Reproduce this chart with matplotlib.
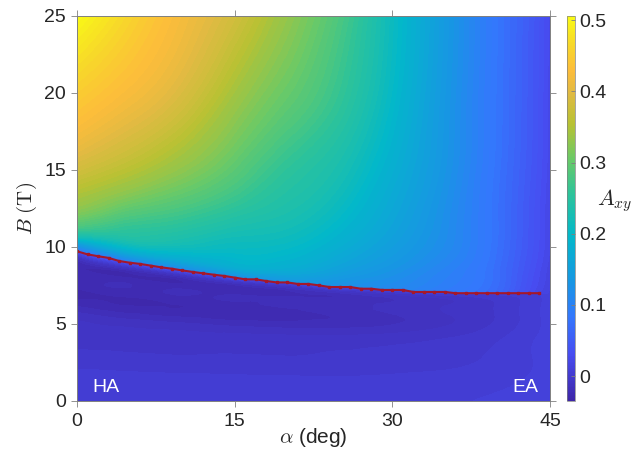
import numpy as np
import matplotlib
matplotlib.use('Agg')
import matplotlib.pyplot as plt
import matplotlib.tri as mtri
from matplotlib.colors import LinearSegmentedColormap, Normalize
from matplotlib.cm import ScalarMappable

# red transition line (one marker per degree)
alpha_line = list(range(0, 45))
B_line = [9.72, 9.52, 9.40, 9.29, 9.09, 8.98, 8.90, 8.79, 8.68, 8.59,
          8.48, 8.38, 8.29, 8.20, 8.12, 8.01, 7.90, 7.90, 7.79, 7.70,
          7.70, 7.60, 7.60, 7.51, 7.40, 7.40, 7.40, 7.29, 7.29, 7.21,
          7.21, 7.21, 7.08, 7.08, 7.08, 7.08, 7.00, 7.00, 7.00, 7.00,
          7.00, 7.00, 7.00, 7.00, 7.00]

# A_xy, columns at these angles
alpha_grid = [0, 5, 10, 15, 20, 25, 30, 35, 40, 43, 45]

# above the line: rows are fractions of the way from the line up to 25 T
t_upper = [0, 0.02, 0.06, 0.12, 0.25, 0.45, 0.7, 1.0]
A_upper = [
    [0.080, 0.090, 0.100, 0.110, 0.130, 0.120, 0.110, 0.090, 0.065, 0.030, 0.012],
    [0.120, 0.130, 0.140, 0.150, 0.150, 0.130, 0.115, 0.095, 0.068, 0.033, 0.014],
    [0.220, 0.200, 0.190, 0.190, 0.180, 0.150, 0.125, 0.100, 0.070, 0.036, 0.016],
    [0.290, 0.250, 0.230, 0.210, 0.200, 0.170, 0.140, 0.110, 0.072, 0.040, 0.018],
    [0.350, 0.310, 0.280, 0.250, 0.230, 0.200, 0.160, 0.120, 0.075, 0.043, 0.020],
    [0.410, 0.375, 0.340, 0.300, 0.260, 0.230, 0.180, 0.130, 0.077, 0.046, 0.022],
    [0.455, 0.425, 0.390, 0.340, 0.300, 0.260, 0.200, 0.135, 0.079, 0.048, 0.023],
    [0.505, 0.460, 0.420, 0.380, 0.330, 0.280, 0.210, 0.140, 0.080, 0.050, 0.024],
]

# below the line: rows are fractions of the line height
t_lower = [0, 0.2, 0.4, 0.6, 0.75, 0.88, 0.96, 1.0]
A_lower = [
    [0.006, 0.006, 0.006, 0.006, 0.006, 0.006, 0.006, 0.007, 0.008, 0.009, 0.010],
    [0.002, 0.002, 0.002, 0.002, 0.002, 0.002, 0.003, 0.004, 0.006, 0.008, 0.010],
    [-0.006, -0.006, -0.006, -0.005, -0.005, -0.004, -0.003, -0.001, 0.003, 0.007, 0.010],
    [-0.018, -0.018, -0.017, -0.016, -0.015, -0.013, -0.010, -0.006, 0.000, 0.006, 0.010],
    [-0.029, -0.029, -0.028, -0.027, -0.025, -0.022, -0.018, -0.012, -0.004, 0.004, 0.010],
    [-0.027, -0.027, -0.026, -0.025, -0.023, -0.020, -0.016, -0.011, -0.004, 0.004, 0.010],
    [-0.010, -0.012, -0.013, -0.013, -0.013, -0.012, -0.010, -0.007, -0.002, 0.004, 0.010],
    [0.030, 0.030, 0.030, 0.025, 0.020, 0.015, 0.010, 0.008, 0.005, 0.006, 0.010],
]

cbar_ticks = [0, 0.1, 0.2, 0.3, 0.4, 0.5]

# parula-like colormap
parula = LinearSegmentedColormap.from_list('parula', [
    (0.00, (0.243, 0.150, 0.660)),
    (0.12, (0.278, 0.300, 0.945)),
    (0.22, (0.200, 0.470, 0.990)),
    (0.31, (0.090, 0.590, 0.890)),
    (0.43, (0.010, 0.720, 0.790)),
    (0.54, (0.180, 0.765, 0.600)),
    (0.63, (0.420, 0.790, 0.400)),
    (0.72, (0.720, 0.760, 0.200)),
    (0.80, (0.880, 0.730, 0.260)),
    (0.86, (0.990, 0.740, 0.230)),
    (0.93, (0.970, 0.850, 0.160)),
    (1.00, (0.977, 0.984, 0.081)),
])
vmin, vmax = -0.035, 0.506
norm = Normalize(vmin=vmin, vmax=vmax)
levels = np.linspace(vmin, vmax, 90)

plt.rcParams['font.family'] = 'Liberation Sans'
plt.rcParams['mathtext.fontset'] = 'cm'

fig = plt.figure(figsize=(6.34, 4.53), dpi=100)
ax = fig.add_axes([0.1215, 0.1148, 0.746, 0.850])
cax = fig.add_axes([0.894, 0.1148, 0.013, 0.850])


def grid_field(t_rows, table, upper):
    a = np.array(alpha_grid, dtype=float)
    bc = np.interp(a, alpha_line, B_line)
    t = np.array(t_rows)[:, None]
    X = np.broadcast_to(a, (len(t_rows), len(a)))
    if upper:
        Y = bc + t * (25.0 - bc)
    else:
        Y = t * bc
    Z = np.array(table)
    nr, nc = Z.shape
    tris = []
    for i in range(nr - 1):
        for j in range(nc - 1):
            k = i * nc + j
            tris.append([k, k + 1, k + nc + 1])
            tris.append([k, k + nc + 1, k + nc])
    tri = mtri.Triangulation(X.ravel(), Y.ravel(), np.array(tris))
    refiner = mtri.UniformTriRefiner(tri)
    return refiner.refine_field(Z.ravel(), subdiv=4)


for t_rows, table, upper in [(t_lower, A_lower, False), (t_upper, A_upper, True)]:
    tri_r, z_r = grid_field(t_rows, table, upper)
    ax.tricontourf(tri_r, z_r, levels=levels, cmap=parula, norm=norm, extend='both',
                   antialiased=False)

ax.plot(alpha_line, B_line, color='#a5182b', linewidth=1.5, marker='s', markersize=2)

ax.text(1.5, 0.9, 'HA', color='white', fontsize=14, va='center', ha='left')
ax.text(43.9, 0.9, 'EA', color='white', fontsize=14, va='center', ha='right')

ax.set_xlim(0, 45)
ax.set_ylim(0, 25)
ax.set_xticks([0, 15, 30, 45])
ax.set_yticks([0, 5, 10, 15, 20, 25])
ax.tick_params(direction='out', length=4, width=0.6, labelsize=14, colors='#808080',
               labelcolor='#262626', top=True, right=True, pad=4)
ax.tick_params(axis='x', pad=5)
for s in ax.spines.values():
    s.set_color('#808080')
    s.set_linewidth(0.7)
ax.set_xlabel(r'$\alpha$ (deg)', fontsize=15, color='#262626', labelpad=-3)
ax.set_ylabel(r'$B\ \mathrm{(T)}$', fontsize=15, color='#262626', labelpad=4)

cb = fig.colorbar(ScalarMappable(norm=norm, cmap=parula), cax=cax, ticks=cbar_ticks)
cb.ax.set_yticklabels(['0', '0.1', '0.2', '0.3', '0.4', '0.5'])
cb.ax.tick_params(direction='in', length=3, width=0.6, labelsize=14, colors='#808080',
                  labelcolor='#262626', pad=3)
cb.outline.set_linewidth(0.5)
cb.outline.set_edgecolor('#808080')
fig.text(0.97, 0.558, r'$A_{xy}$', fontsize=16, ha='center', va='center', color='#262626')

fig.savefig('out.png', dpi=100)
